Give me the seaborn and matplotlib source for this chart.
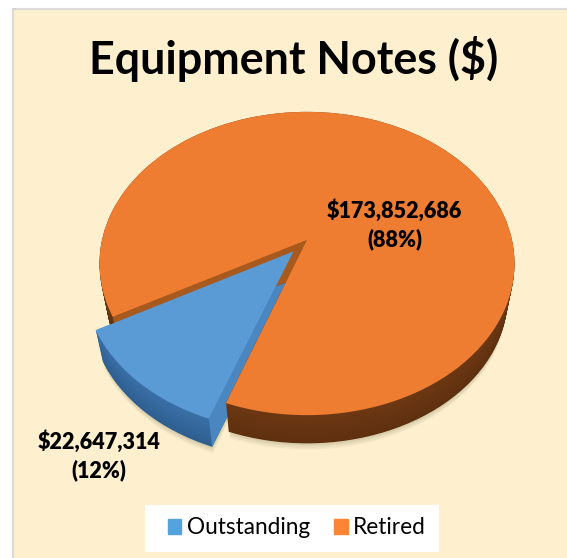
import numpy as np
import seaborn as sns
import matplotlib.pyplot as plt
from matplotlib.patches import Patch, Rectangle
from matplotlib.transforms import Transform

labels = ["Outstanding", "Retired"]
values = [22647314, 173852686]
value_labels = ["$22,647,314\n(12%)", "$173,852,686\n(88%)"]
title = "Equipment Notes ($)"

BLUE, ORANGE = "#5b9bd5", "#ee7d31"
EXPLODE = [0.1, 0]
START = 208.75

sns.set_theme(style="white")
plt.rcParams["font.family"] = ["Lato", "DejaVu Sans"]


# flat unit pie -> tilted pie in pixel coords, t=0 top face, t=1 bottom face
class Tilt(Transform):
    input_dims = output_dims = 2
    is_affine = False
    has_inverse = False

    def __init__(self, t=0.0):
        super().__init__()
        self.t = t

    def transform_non_affine(self, xy):
        xy = np.asarray(xy, dtype=float)
        u, v = xy[:, 0], -xy[:, 1]
        w = 1 - 0.155 * v
        s = 1 - 0.033 * self.t
        return np.column_stack([307 + s * 205 * u / w, 240 + s * 148 * v / w + 34 * self.t])


def pie_layer(t, color_out, color_ret, z, alpha=None):
    wedges = ax.pie(values, explode=EXPLODE, startangle=START, frame=True,
                    colors=[color_out or "none", color_ret or "none"],
                    wedgeprops={"linewidth": 0, "zorder": z, "alpha": alpha})[0]
    for w in wedges:
        w.set_transform(Tilt(t) + ax.transData)
    return wedges


def wall(wedge, theta, color, z):
    a = np.radians(theta)
    cx, cy = wedge.center
    flat = np.array([[cx, cy], [cx + np.cos(a), cy + np.sin(a)]])
    pts = np.vstack([Tilt(0).transform(flat), Tilt(1).transform(flat)[::-1]])
    ax.fill(pts[:, 0], pts[:, 1], color=color, lw=0, zorder=z)


fig = plt.figure(figsize=(5.67, 5.58), dpi=100, facecolor="white")
ax = fig.add_axes([0, 0, 1, 1])

# panel
ax.add_patch(Rectangle((12.5, 9), 560, 560, fc="#fef0cf", ec="#d9d9d9", lw=1.5, zorder=0))

# soft shadow
for t in [1.22, 1.16, 1.1, 1.05]:
    pie_layer(t, "#6b6a45", "#6b6a45", 1, alpha=0.07)

depths = np.linspace(1, 0, 36)
blue_side = sns.blend_palette(["#2f5f90", "#3a70a8"], len(depths))
orange_side = sns.blend_palette(["#5f300f", "#6d3813"], len(depths))

# blue side first, orange sits over it
for t, c in zip(depths, blue_side):
    top = pie_layer(t, c, None, 2)
wall(top[0], top[0].theta2, "#4a86c0", 3)

for t, c in zip(depths, orange_side):
    top = pie_layer(t, None, c, 4)
wall(top[1], top[1].theta2, "#a85a1e", 5)

top = pie_layer(0, None, ORANGE, 6)
top_blue = pie_layer(0, BLUE, None, 7)

# value labels
ax.text(99, 455.5, value_labels[0], ha="center", va="center", fontsize=15.5,
        fontweight="heavy", color="black", linespacing=1.35, parse_math=False, zorder=8)
ax.text(394.5, 224.5, value_labels[1], ha="center", va="center", fontsize=15.5,
        fontweight="heavy", color="black", linespacing=1.35, parse_math=False, zorder=8)

ax.text(293.5, 59, title, ha="center", va="center", fontsize=32.3, fontweight="bold",
        color="black", parse_math=False, zorder=8)

# legend box
ax.add_patch(Rectangle((145, 505), 294, 47, fc="white", ec="none", zorder=8))
handles = [Patch(color="#55a3dc"), Patch(color="#fb8435")]
leg = ax.legend(handles, labels, ncol=2, loc="center", bbox_to_anchor=(297, 528),
                bbox_transform=ax.transData, frameon=False, fontsize=16.3,
                handlelength=0.6, handleheight=0.6, handletextpad=0.25, columnspacing=1.05,
                borderpad=0, labelcolor="black")
leg.set_zorder(9)

ax.set_aspect("auto")
ax.set_xlim(0, 567)
ax.set_ylim(558, 0)
ax.axis("off")

fig.savefig("out.png", dpi=100)
